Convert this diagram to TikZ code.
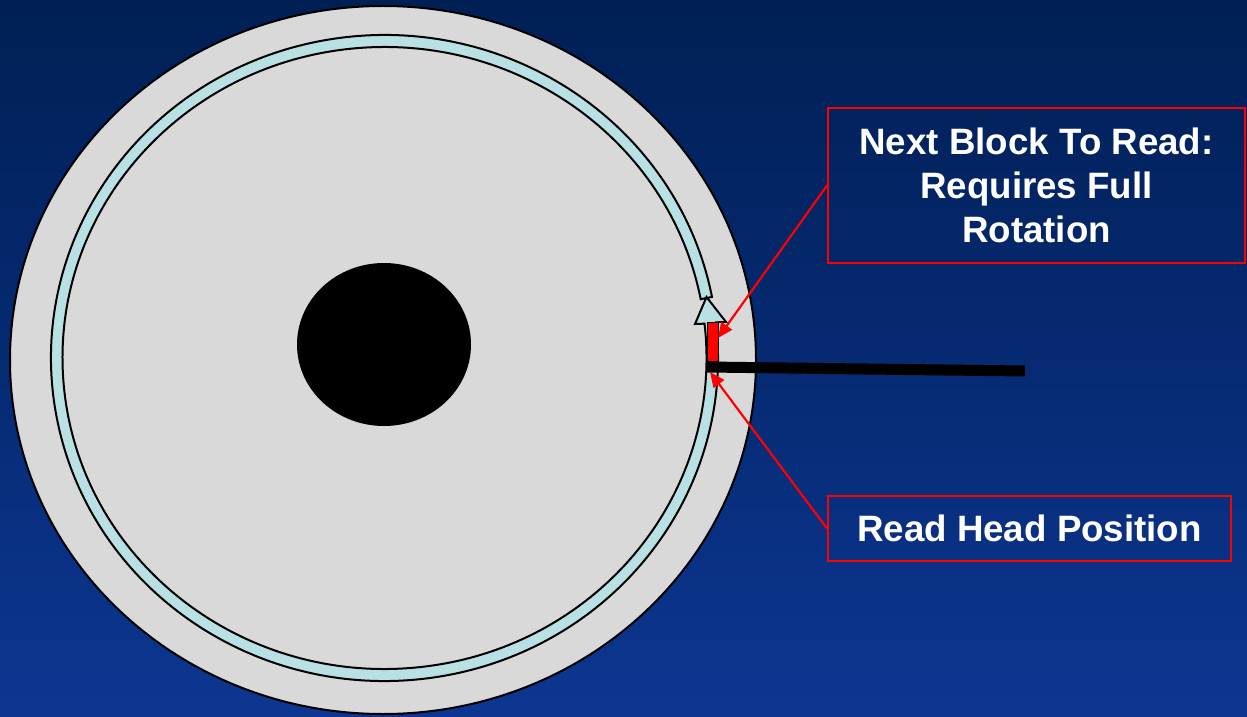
\documentclass[tikz,border=0pt]{standalone}
\usepackage{fontspec}
\setmainfont{Liberation Sans}
\usetikzlibrary{arrows.meta, calc}
\definecolor{navytop}{RGB}{0,31,84}
\definecolor{navybot}{RGB}{12,54,145}
\definecolor{platter}{RGB}{217,217,217}
\definecolor{track}{RGB}{185,225,228}

\begin{document}
\begin{tikzpicture}[x=1pt, y=1pt,
    label box/.style={draw=red, line width=2pt, text=white, inner sep=0pt, align=center,
      font=\bfseries\fontsize{36.7}{44}\selectfont},
    pointer/.style={red, line width=2.2pt, -{Triangle[length=15pt, width=13pt]}}]
  \useasboundingbox (0,0) rectangle (1247,716);

  % Background
  \shade[top color=navytop, bottom color=navybot] (0,0) rectangle (1247,716);

  % Platter and spindle
  \draw[fill=platter, line width=2pt] (383,356) ellipse [x radius=373, y radius=354];
  \fill (384,371.5) ellipse [x radius=87, y radius=81.5];

  % Track - one full turn ending in the arrow head
  \coordinate (rc) at (384.5,358);
  \draw[fill=track, line width=2pt, line join=miter]
    ($(rc)+(10.9:333.5 and 323)$) arc[start angle=10.9, end angle=366.34, x radius=333.5, y radius=323]
    -- (726,394) -- (706.5,419) -- (695,392) -- (704.53,392.34)
    arc[start angle=366.34, end angle=10.9, x radius=322, y radius=311] -- cycle;

  % Next block (red) and read head arm
  \draw[fill=red, line width=1pt] (707,355) rectangle (718,394);
  \draw[line width=11pt] (707,349) -- (1025,345);

  % Label boxes
  \node[label box, minimum width=417pt, minimum height=155pt] (nextbox) at (1036.5,530.5)
    {Next Block To Read:\\Requires Full\\Rotation};
  \node[label box, minimum width=403pt, minimum height=65pt] (headbox) at (1029.5,187.5)
    {Read Head Position};

  % Pointers
  \coordinate (blk) at (718,378);
  \coordinate (hd) at (710,344);
  \draw[pointer] (nextbox.west) -- (blk);
  \draw[pointer] (headbox.west) -- (hd);
\end{tikzpicture}
\end{document}
